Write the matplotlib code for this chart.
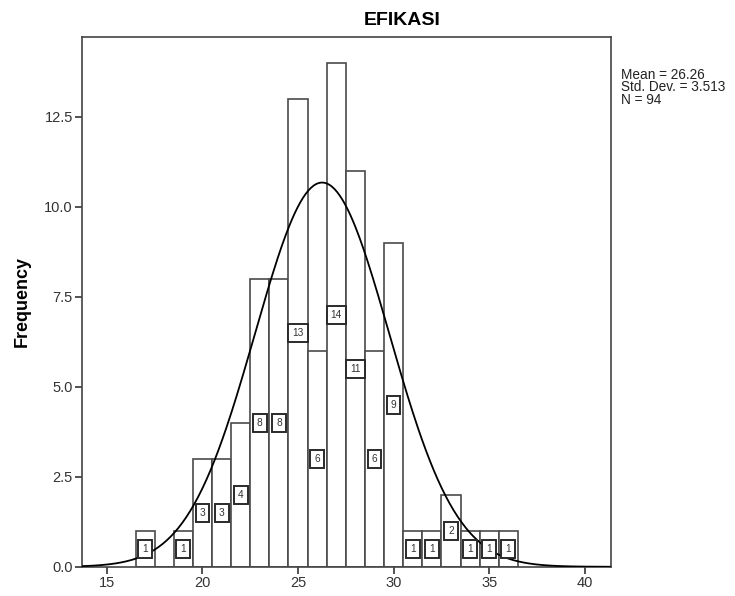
import numpy as np
from matplotlib import pyplot as plt
from matplotlib.ticker import FormatStrFormatter

# nilai EFIKASI dan frekuensinya
scores = [17, 18, 19, 20, 21, 22, 23, 24, 25, 26, 27, 28, 29, 30, 31, 32, 33, 34, 35, 36]
counts = [1, 0, 1, 3, 3, 4, 8, 8, 13, 6, 14, 11, 6, 9, 1, 1, 2, 1, 1, 1]
mean = 26.26
std = 3.513
n = 94

plt.rcParams['font.family'] = ['Liberation Sans', 'DejaVu Sans']

fig = plt.figure(figsize=(7.35, 5.96), dpi=100)
ax = fig.add_axes([0.1116, 0.049, 0.7194, 0.889])

ax.bar(scores, counts, width=1.0, color='white', edgecolor='#4a4a4a', linewidth=1.2, zorder=2)

# label jumlah di tengah tiap batang
for s, c in zip(scores, counts):
    if c == 0:
        continue
    ax.text(s, c / 2, str(c), ha='center', va='center', fontsize=7.3, color='#333333', zorder=4,
            bbox=dict(boxstyle='square,pad=0.4', fc='white', ec='#2a2a2a', lw=1.4))

# kurva normal
xs = np.linspace(13.7, 41.3, 400)
ys = n * 1.0 / (std * np.sqrt(2 * np.pi)) * np.exp(-0.5 * ((xs - mean) / std) ** 2)
ax.plot(xs, ys, color='black', linewidth=1.3, zorder=3)

ax.set_xlim(13.7, 41.36)
ax.set_ylim(0, 14.72)
ax.set_xticks([15, 20, 25, 30, 35, 40])
ax.set_yticks([0, 2.5, 5, 7.5, 10, 12.5])
ax.yaxis.set_major_formatter(FormatStrFormatter('%.1f'))
ax.tick_params(labelsize=10.5, length=5, width=1.2, pad=1.5, color='#333333', labelcolor='#333333')
for sp in ax.spines.values():
    sp.set_color('#444444')
    sp.set_linewidth(1.2)

fig.text(0.547, 0.966, 'EFIKASI', fontsize=14, fontweight='bold', ha='center', va='center')
ax.set_ylabel('Frequency', fontsize=13, fontweight='bold', labelpad=10)

fig.text(0.8445, 0.886, 'Mean = 26.26\nStd. Dev. = 3.513\nN = 94', fontsize=9.8, va='top', ha='left',
         linespacing=0.85, color='#222222')

plt.savefig('out.png', dpi=100)
plt.close()
